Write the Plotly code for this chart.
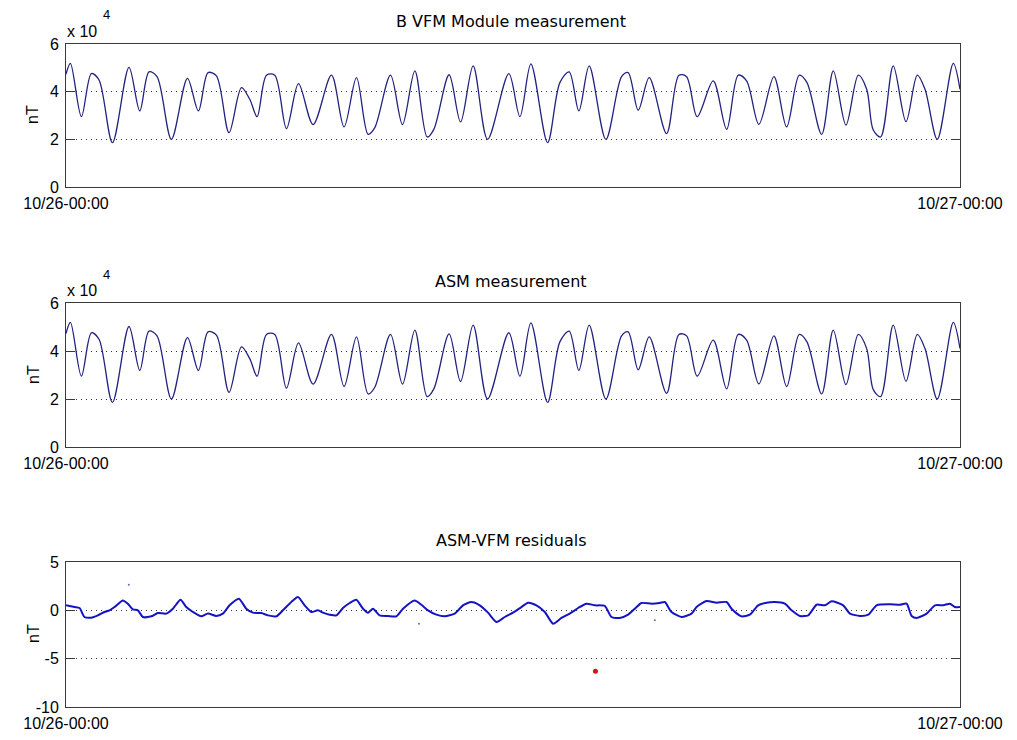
import plotly.graph_objects as go

# ---- data -------------------------------------------------------------
# time axis: minutes after 10/26 00:00
x_ticks_min = [0, 1440]
x_tick_labels = ["10/26-00:00", "10/27-00:00"]

# B field magnitude from the VFM (nT), key samples along the day
vfm_t = [0, 7.1, 24.8, 40.9, 53.2, 74.8, 101.5, 118.8, 133.7, 146.6, 169.8,
         195.6, 213.3, 228.8, 242.3, 262.6, 282.6, 296.0, 307.8, 322.9, 336.3,
         355.1, 374.5, 398.0, 427.6, 447.9, 467.9, 486.6, 497.4, 522.7, 542.0,
         561.9, 581.7, 592.5, 617.1, 635.5, 655.8, 679.0, 713.3, 731.1, 748.8,
         775.7, 795.5, 810.5, 826.1, 842.7, 869.6, 894.9, 905.5, 921.7, 939.4,
         967.4, 987.2, 999.6, 1016.7, 1042.5, 1064.1, 1082.8, 1096.3, 1116.1,
         1140.3, 1160.8, 1181.1, 1193.5, 1217.2, 1235.9, 1256.3, 1276.2,
         1289.7, 1300.3, 1312.2, 1332.5, 1353.0, 1371.2, 1383.6, 1403.4,
         1429.2, 1440]
vfm_nt = [47300, 51900, 29500, 47600, 44900, 18600, 50200, 31900, 48300,
          46300, 20000, 45600, 31900, 48000, 46600, 22800, 41700, 36800,
          29500, 46900, 46900, 24500, 43400, 26200, 46900, 25200, 45900,
          22100, 24900, 46900, 26200, 48700, 21000, 24200, 47100, 27300,
          50800, 20000, 47600, 29500, 51700, 18600, 43800, 48300, 31900,
          50800, 20000, 46300, 48000, 32200, 45900, 22400, 46900, 46300,
          29500, 44500, 24200, 46900, 44500, 26300, 46300, 25200, 46900,
          43800, 22100, 48700, 26000, 46900, 41000, 23900, 21000, 50800,
          27400, 46900, 41000, 20000, 51900, 41000]

# absolute scalar magnetometer: identical to the VFM module at this scale
asm_t = list(vfm_t)
asm_nt = list(vfm_nt)

# ASM - VFM residuals (nT)
res_t = [0, 13.7, 21.8, 29.8, 40.6, 51.3, 62.0, 70.1, 78.2, 91.6, 99.6,
         107.7, 115.8, 123.8, 137.3, 148.0, 161.4, 172.2, 184.5, 193.7,
         204.4, 217.8, 228.6, 242.0, 252.7, 263.5, 278.5, 290.4, 301.1,
         314.5, 325.3, 338.7, 349.4, 362.9, 373.6, 384.4, 395.1, 405.8,
         413.9, 424.7, 435.4, 446.1, 456.9, 467.6, 478.4, 486.4, 494.5,
         505.2, 518.7, 532.1, 542.8, 561.6, 572.4, 583.1, 596.6, 610.0,
         626.1, 639.5, 653.0, 666.4, 679.8, 693.3, 706.7, 720.1, 733.5,
         744.3, 757.7, 771.2, 784.6, 798.0, 811.4, 824.9, 838.3, 851.7,
         867.8, 878.6, 892.0, 905.4, 916.2, 926.9, 943.0, 956.5, 964.5,
         975.3, 991.4, 1007.5, 1015.6, 1031.7, 1047.8, 1063.9, 1072.0,
         1088.1, 1101.5, 1114.9, 1128.4, 1141.8, 1157.9, 1168.7, 1182.1,
         1195.5, 1209.0, 1222.4, 1233.1, 1251.9, 1262.7, 1278.8, 1292.2,
         1305.7, 1327.1, 1343.2, 1354.0, 1362.1, 1370.1, 1386.2, 1399.7,
         1413.1, 1423.8, 1431.9, 1440]
res_nt = [0.52, 0.34, 0.24, -0.69, -0.76, -0.52, -0.17, 0.0, 0.34, 1.03,
          0.69, 0.10, 0.0, -0.69, -0.62, -0.28, -0.34, 0.17, 1.10, 0.34,
          -0.17, -0.62, -0.34, -0.58, -0.34, 0.52, 1.20, 0.17, -0.24, -0.28,
          -0.52, -0.62, 0.0, 0.86, 1.38, 0.52, -0.17, 0.0, -0.24, -0.45,
          -0.52, 0.24, 0.76, 1.10, 0.17, -0.24, 0.17, -0.52, -0.58, -0.62,
          0.17, 1.03, 0.58, 0.0, -0.45, -0.62, -0.34, 0.52, 0.86, 0.52,
          -0.24, -1.20, -0.69, -0.24, 0.34, 0.79, 0.52, -0.17, -1.38, -0.79,
          -0.34, 0.24, 0.69, 0.52, 0.45, -0.69, -0.79, -0.45, 0.17, 0.76,
          0.69, 0.76, 0.86, -0.17, -0.69, -0.34, 0.34, 0.96, 0.79, 0.86,
          0.17, -0.62, -0.45, 0.52, 0.79, 0.86, 0.69, 0.0, -0.58, -0.52,
          0.58, 0.52, 0.93, 0.52, -0.34, -0.58, -0.45, 0.52, 0.62, 0.58,
          0.69, -0.58, -0.79, -0.34, 0.52, 0.52, 0.69, 0.34, 0.34]

# isolated samples away from the main trace
stray_t = [101.2, 568.6, 948.4]
stray_nt = [2.65, -1.38, -1.03]
flag_t = [852.8]
flag_nt = [-6.3]

# ---- figure -------------------------------------------------------------
W, H = 1017, 740
L, R, T, B = 66, 57, 44, 33
ph = H - T - B


def py(p):
    return (H - B - p) / ph


def px(p):
    return (p - L) / (W - L - R)


FONT = "Liberation Sans, Arial, Helvetica, sans-serif"
TITLE_FONT = "DejaVu Sans, Liberation Sans, sans-serif"
fig = go.Figure()

fig.add_trace(go.Scatter(x=vfm_t, y=vfm_nt, mode="lines",
                         line=dict(color="#22227f", width=1.3, shape="spline",
                                   smoothing=0.9),
                         xaxis="x", yaxis="y", showlegend=False))
fig.add_trace(go.Scatter(x=asm_t, y=asm_nt, mode="lines",
                         line=dict(color="#22227f", width=1.3, shape="spline",
                                   smoothing=0.9),
                         xaxis="x2", yaxis="y2", showlegend=False))
fig.add_trace(go.Scatter(x=res_t, y=res_nt, mode="lines",
                         line=dict(color="#1414c4", width=2, shape="spline",
                                   smoothing=0.6),
                         xaxis="x3", yaxis="y3", showlegend=False))
fig.add_trace(go.Scatter(x=stray_t, y=stray_nt, mode="markers",
                         marker=dict(color="#6a6aa8", size=2),
                         xaxis="x3", yaxis="y3", showlegend=False))
fig.add_trace(go.Scatter(x=flag_t, y=flag_nt, mode="markers",
                         marker=dict(color="#e01010", size=5, symbol="circle"),
                         xaxis="x3", yaxis="y3", showlegend=False))

domains = [(py(187), py(44)), (py(447), py(303)), (py(707), py(562))]

axis_common = dict(showline=True, linecolor="#3a3a3a", linewidth=1,
                   mirror="ticks", ticks="inside", ticklen=9,
                   tickcolor="#3a3a3a", zeroline=False,
                   tickfont=dict(family=FONT, size=16, color="#000"))

layout = dict(width=W, height=H, margin=dict(l=L, r=R, t=T, b=B),
              paper_bgcolor="white", plot_bgcolor="white",
              font=dict(family=FONT, size=16, color="#000"))

for i, (d0, d1) in enumerate(domains, start=1):
    sx = "" if i == 1 else str(i)
    layout["xaxis" + sx] = dict(axis_common, range=[0, 1440],
                                tickvals=x_ticks_min, ticktext=x_tick_labels,
                                showgrid=False, anchor="y" + sx,
                                ticklabelstandoff=2, automargin=False)
    if i < 3:
        yax = dict(range=[0, 60000], tickvals=[0, 20000, 40000, 60000],
                   ticktext=["0", "2", "4", "6"])
    else:
        yax = dict(range=[-10, 5], tickvals=[-10, -5, 0, 5],
                   ticktext=["-10", "-5", "0", "5"])
    layout["yaxis" + sx] = dict(axis_common, **yax, domain=[d0, d1],
                                anchor="x" + sx, showgrid=True,
                                gridcolor="#333", griddash="1px,4px",
                                gridwidth=1, ticklabelstandoff=3,
                                automargin=False)

fig.update_layout(**layout)

titles = [("B VFM Module measurement", 22), ("ASM measurement", 281),
          ("ASM-VFM residuals", 540)]
anns = []
for text, y in titles:
    anns.append(dict(text=text, x=px(511), y=py(y), xref="paper",
                     yref="paper", showarrow=False, xanchor="center",
                     yanchor="middle",
                     font=dict(family=TITLE_FONT, size=16)))
for yc in (115, 375, 634):
    anns.append(dict(text="nT", x=px(33), y=py(yc), xref="paper",
                     yref="paper", showarrow=False, textangle=-90,
                     xanchor="center", yanchor="middle", font=dict(size=16)))
for y_base, y_exp in ((31, 15), (290, 274)):
    anns.append(dict(text="x 10", x=px(65), y=py(y_base), xref="paper",
                     yref="paper", showarrow=False, xanchor="left",
                     yanchor="middle", font=dict(size=16)))
    anns.append(dict(text="4", x=px(101), y=py(y_exp), xref="paper",
                     yref="paper", showarrow=False, xanchor="left",
                     yanchor="middle", font=dict(size=13)))
fig.update_layout(annotations=anns)

fig.write_html("out.html")
